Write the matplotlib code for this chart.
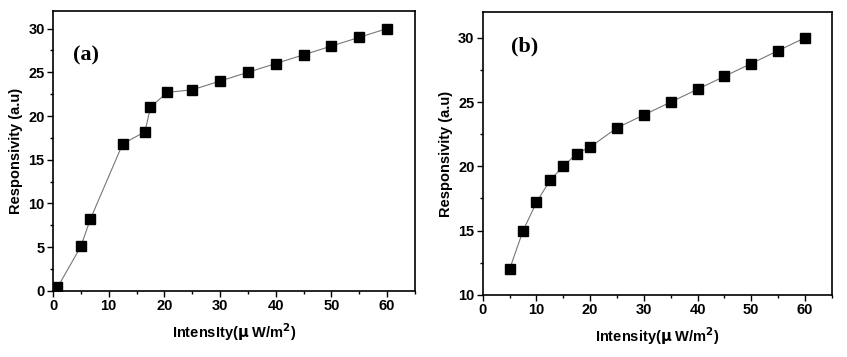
import matplotlib.pyplot as plt
from matplotlib.ticker import MultipleLocator

# panel (a)
intensity_a = [0.8, 5, 6.7, 12.5, 16.5, 17.5, 20.5, 25, 30, 35, 40, 45, 50, 55, 60]
resp_a = [0.4, 5.1, 8.2, 16.8, 18.2, 21.0, 22.7, 23, 24, 25, 26, 27, 28, 29, 30]

# panel (b)
intensity_b = [5, 7.5, 10, 12.5, 15, 17.5, 20, 25, 30, 35, 40, 45, 50, 55, 60]
resp_b = [12, 15, 17.2, 18.9, 20, 21, 21.5, 23, 24, 25, 26, 27, 28, 29, 30]

plt.rcParams['font.family'] = ['Liberation Sans', 'DejaVu Sans']

fig = plt.figure(figsize=(8.47, 3.57), dpi=100)
ax1 = fig.add_axes([0.0626, 0.185, 0.4274, 0.784])
ax2 = fig.add_axes([0.570, 0.174, 0.412, 0.792])


def style(ax, xlabel, ylabel, ymin, ymax, tag, tag_xy):
    ax.set_xlim(0, 65)
    ax.set_ylim(ymin, ymax)
    ax.xaxis.set_major_locator(MultipleLocator(10))
    ax.xaxis.set_minor_locator(MultipleLocator(5))
    ax.yaxis.set_major_locator(MultipleLocator(5))
    ax.yaxis.set_minor_locator(MultipleLocator(2.5))
    ax.tick_params(which='major', direction='out', length=4, width=1, labelsize=10.5, pad=2)
    ax.tick_params(which='minor', direction='out', length=2, width=1)
    for lab in ax.get_xticklabels() + ax.get_yticklabels():
        lab.set_fontweight('bold')
    for sp in ax.spines.values():
        sp.set_linewidth(1.2)
    ax.set_xlabel(xlabel, fontsize=10.5, fontweight='bold', labelpad=6)
    ax.set_ylabel(ylabel, fontsize=10.5, fontweight='bold', labelpad=4)
    ax.text(tag_xy[0], tag_xy[1], tag, transform=ax.transAxes, fontsize=16,
            fontweight='bold', family='Liberation Serif', va='center')


ax1.plot(intensity_a, resp_a, color='#777777', lw=0.8, marker='s', ms=6.5,
         mfc='black', mec='black')
style(ax1, r'IntensIty($\mathbf{\mu}$ W/m$^{\mathbf{2}}$)', 'Responsivity (a.u)', 0, 32,
      '(a)', (0.055, 0.84))

ax2.plot(intensity_b, resp_b, color='#777777', lw=0.8, marker='s', ms=6.5,
         mfc='black', mec='black')
style(ax2, r'Intensity($\mathbf{\mu}$ W/m$^{\mathbf{2}}$)', 'Responsivity (a.u)', 10, 32,
      '(b)', (0.08, 0.88))

fig.savefig('out.png', dpi=100)
